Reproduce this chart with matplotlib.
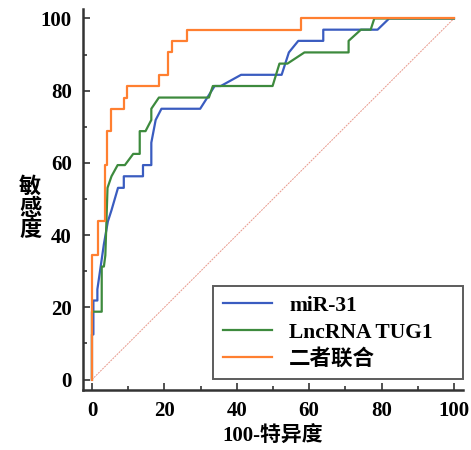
import matplotlib
matplotlib.use("Agg")
import matplotlib.pyplot as plt
from matplotlib.ticker import MultipleLocator

plt.rcParams['font.family'] = ['Liberation Serif', 'Noto Sans CJK SC']

# ROC curves (x = 100-specificity, y = sensitivity)
mir_x = [0, 0, 0.4, 0.4, 1.5, 1.5, 3.3, 4.4, 5.4, 5.4, 6.3, 7.2, 8.8, 8.8, 14.1, 14.1, 16.4, 16.4,
         17.6, 19.2, 29.9, 33.9, 35.6, 41.2, 52.4, 54.4, 57.0, 63.9, 63.9, 78.9, 82.1, 100]
mir_y = [0, 12.5, 12.5, 21.9, 21.9, 25.0, 37.5, 43.8, 46.9, 46.9, 50.0, 53.1, 53.1, 56.3, 56.3, 59.4, 59.4, 65.6,
         71.9, 75.0, 75.0, 81.3, 81.3, 84.4, 84.4, 90.6, 93.8, 93.8, 96.9, 96.9, 100, 100]

tug_x = [0, 0, 2.7, 2.7, 3.3, 3.7, 4.3, 4.3, 5.4, 5.4, 7.1, 7.1, 9.1, 11.4, 13.2, 13.2, 14.8, 16.4,
         16.4, 18.5, 32.3, 33.4, 49.9, 51.8, 54.0, 58.7, 70.9, 70.9, 74.3, 77.0, 78.0, 100]
tug_y = [0, 18.8, 18.8, 31.3, 31.3, 34.4, 53.1, 53.1, 56.3, 56.3, 59.4, 59.4, 59.4, 62.5, 62.5, 68.8, 68.8, 71.9,
         75.0, 78.1, 78.1, 81.3, 81.3, 87.5, 87.5, 90.6, 90.6, 93.8, 96.9, 96.9, 100, 100]

comb_x = [0, 0, 1.7, 1.7, 3.6, 3.6, 4.2, 4.2, 5.2, 5.2, 8.8, 8.8, 9.7, 9.7, 18.4, 18.4,
          21.0, 21.0, 22.0, 22.0, 26.3, 26.3, 57.8, 57.8, 100]
comb_y = [0, 34.4, 34.4, 43.8, 43.8, 59.4, 59.4, 68.8, 68.8, 75.0, 75.0, 78.1, 78.1, 81.3, 81.3, 84.4,
          84.4, 90.6, 90.6, 93.8, 93.8, 96.9, 96.9, 100, 100]

labels = ['miR-31', 'LncRNA TUG1', '二者联合']
colors = ['#3a5cc0', '#3d8a3d', '#ff7f30']

fig = plt.figure(figsize=(4.71, 4.5), dpi=100)
ax = fig.add_axes([0.176, 0.134, 0.807, 0.845])

ax.plot([0, 100], [0, 100], color='#e8998c', lw=0.7, linestyle=(0, (2, 1)))
ax.plot(mir_x, mir_y, color=colors[0], lw=1.6, label=labels[0])
ax.plot(tug_x, tug_y, color=colors[1], lw=1.6, label=labels[1])
ax.plot(comb_x, comb_y, color=colors[2], lw=1.6, label=labels[2])

ax.set_xlim(-2.5, 102.5)
ax.set_ylim(-2.8, 102.5)
ax.xaxis.set_major_locator(MultipleLocator(20))
ax.xaxis.set_minor_locator(MultipleLocator(10))
ax.yaxis.set_major_locator(MultipleLocator(20))
ax.yaxis.set_minor_locator(MultipleLocator(10))
ax.tick_params(which='major', direction='in', length=5, width=1.2, color='#333333',
               labelsize=15, pad=8)
ax.tick_params(which='minor', direction='in', length=3, width=1.2, color='#333333')
for t in ax.get_xticklabels() + ax.get_yticklabels():
    t.set_fontweight('bold')

for s in ['top', 'right']:
    ax.spines[s].set_visible(False)
for s in ['left', 'bottom']:
    ax.spines[s].set_linewidth(1.8)
    ax.spines[s].set_color('#333333')

ax.set_xlabel('100-特异度', fontsize=15, fontweight='bold', labelpad=4)
fig.text(0.064, 0.535, '敏\n感\n度', fontsize=16, fontweight='bold',
         ha='center', va='center', linespacing=1.05)

leg = ax.legend(loc='lower left', bbox_to_anchor=(0.342, 0.027, 0.658, 0.2), mode='expand',
                borderaxespad=0, frameon=True, fancybox=False, edgecolor='#333333',
                handlelength=2.3, handletextpad=0.8,
                prop={'family': ['Liberation Serif', 'Noto Sans CJK SC'], 'weight': 'bold', 'size': 15.5},
                borderpad=0.45, labelspacing=0.3)
leg.get_frame().set_linewidth(1.4)

fig.savefig('out.png', dpi=100)
